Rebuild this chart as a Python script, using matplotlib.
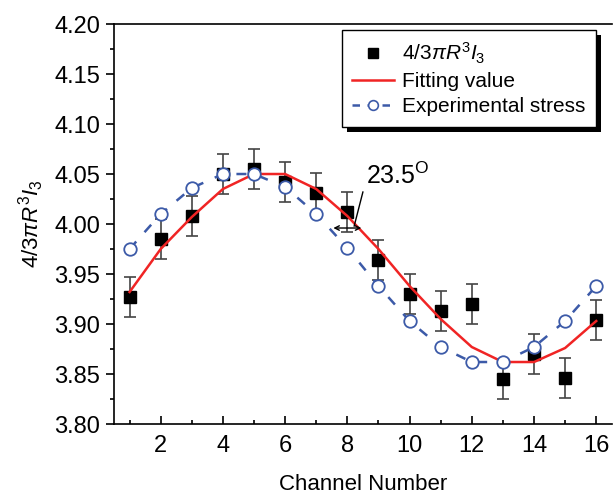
import matplotlib.pyplot as plt
import numpy as np
from matplotlib.ticker import MultipleLocator
from matplotlib.lines import Line2D
from matplotlib.patches import Rectangle

plt.rcParams['font.family'] = ['Liberation Sans', 'DejaVu Sans']
plt.rcParams['mathtext.fontset'] = 'custom'
plt.rcParams['mathtext.rm'] = 'Liberation Sans'
plt.rcParams['mathtext.it'] = 'Liberation Sans:italic'

channels = np.arange(1, 17)
measured = [3.927, 3.985, 4.008, 4.050, 4.055, 4.042, 4.031, 4.012,
            3.964, 3.930, 3.913, 3.920, 3.845, 3.870, 3.846, 3.904]
measured_err = [0.02] * 16
fitting = [3.932, 3.975, 4.007, 4.035, 4.050, 4.050, 4.035, 4.008,
           3.975, 3.938, 3.905, 3.877, 3.862, 3.862, 3.876, 3.903]
experimental = [3.975, 4.010, 4.036, 4.050, 4.050, 4.037, 4.010, 3.976,
                3.938, 3.903, 3.877, 3.862, 3.862, 3.877, 3.903, 3.938]

red = '#f02424'
blue = '#3c5aa8'

fig = plt.figure(figsize=(6.13, 4.95), dpi=100)
ax = fig.add_axes([0.186, 0.1434, 0.812, 0.8081])
ax.set_facecolor('none')

ax.errorbar(channels, measured, yerr=measured_err, fmt='s', color='k',
            ms=8, ecolor='#444444', elinewidth=1.2, capsize=4, capthick=1.2,
            zorder=3)
ax.plot(channels, fitting, color=red, lw=1.8, zorder=4)
ax.plot(channels, experimental, color=blue, lw=1.8, ls=(0, (4, 5)),
        marker='o', ms=9, mfc='white', mec=blue, mew=1.3, zorder=5)

# phase shift annotation
ax.annotate('', xy=(7.55, 3.996), xytext=(8.45, 3.996),
            arrowprops=dict(arrowstyle='<->', color='k', lw=1.0,
                            shrinkA=0, shrinkB=0, mutation_scale=8), zorder=6)
ax.plot([8.22, 8.5], [3.998, 4.032], color='k', lw=1.0, zorder=6)
ax.text(8.6, 4.035, r'23.5$^{\mathrm{O}}$', fontsize=18, ha='left', va='bottom')

ax.set_xlim(0.5, 16.5)
ax.set_ylim(3.80, 4.20)
ax.xaxis.set_major_locator(MultipleLocator(2))
ax.xaxis.set_minor_locator(MultipleLocator(1))
ax.yaxis.set_major_locator(MultipleLocator(0.05))
ax.yaxis.set_minor_locator(MultipleLocator(0.025))
ax.yaxis.set_major_formatter(plt.FormatStrFormatter('%.2f'))
ax.tick_params(axis='x', which='major', direction='in', length=6, width=1.2,
               labelsize=17, pad=8)
ax.tick_params(axis='x', which='minor', direction='in', length=3, width=1.2)
ax.tick_params(axis='y', which='major', direction='out', length=6, width=1.2,
               labelsize=17, pad=4)
ax.tick_params(axis='y', which='minor', direction='out', length=3, width=1.2)
for s in ax.spines.values():
    s.set_linewidth(1.2)
ax.spines['right'].set_visible(False)

ax.set_xlabel('Channel Number', fontsize=16, labelpad=12)
ax.set_ylabel(r'$4/3\pi R^3 I_3$', fontsize=16, labelpad=6)

handles = [
    Line2D([], [], ls='none', marker='s', ms=7, color='k'),
    Line2D([], [], color=red, lw=1.8),
    Line2D([], [], color=blue, lw=1.8, ls=(0, (3, 3)), marker='o', ms=7,
           mfc='white', mec=blue, mew=1.2),
]
labels = [r'$4/3\pi R^3 I_3$', 'Fitting value', 'Experimental stress']
leg = ax.legend(handles, labels, loc='upper right', bbox_to_anchor=(0.968, 0.985),
                borderaxespad=0, fontsize=15, frameon=True, fancybox=False,
                edgecolor='k', framealpha=1, handlelength=2.0, handletextpad=0.4,
                labelspacing=0.3, borderpad=0.5)
leg.get_frame().set_linewidth(1.0)

# thick black drop shadow behind the legend box
fig.canvas.draw()
bb = leg.get_window_extent()
fig.patches.append(Rectangle((bb.x0 + 5, bb.y0 - 5), bb.width, bb.height,
                             transform=None, facecolor='k', edgecolor='none',
                             zorder=-1))

fig.savefig('out.png', dpi=100)
